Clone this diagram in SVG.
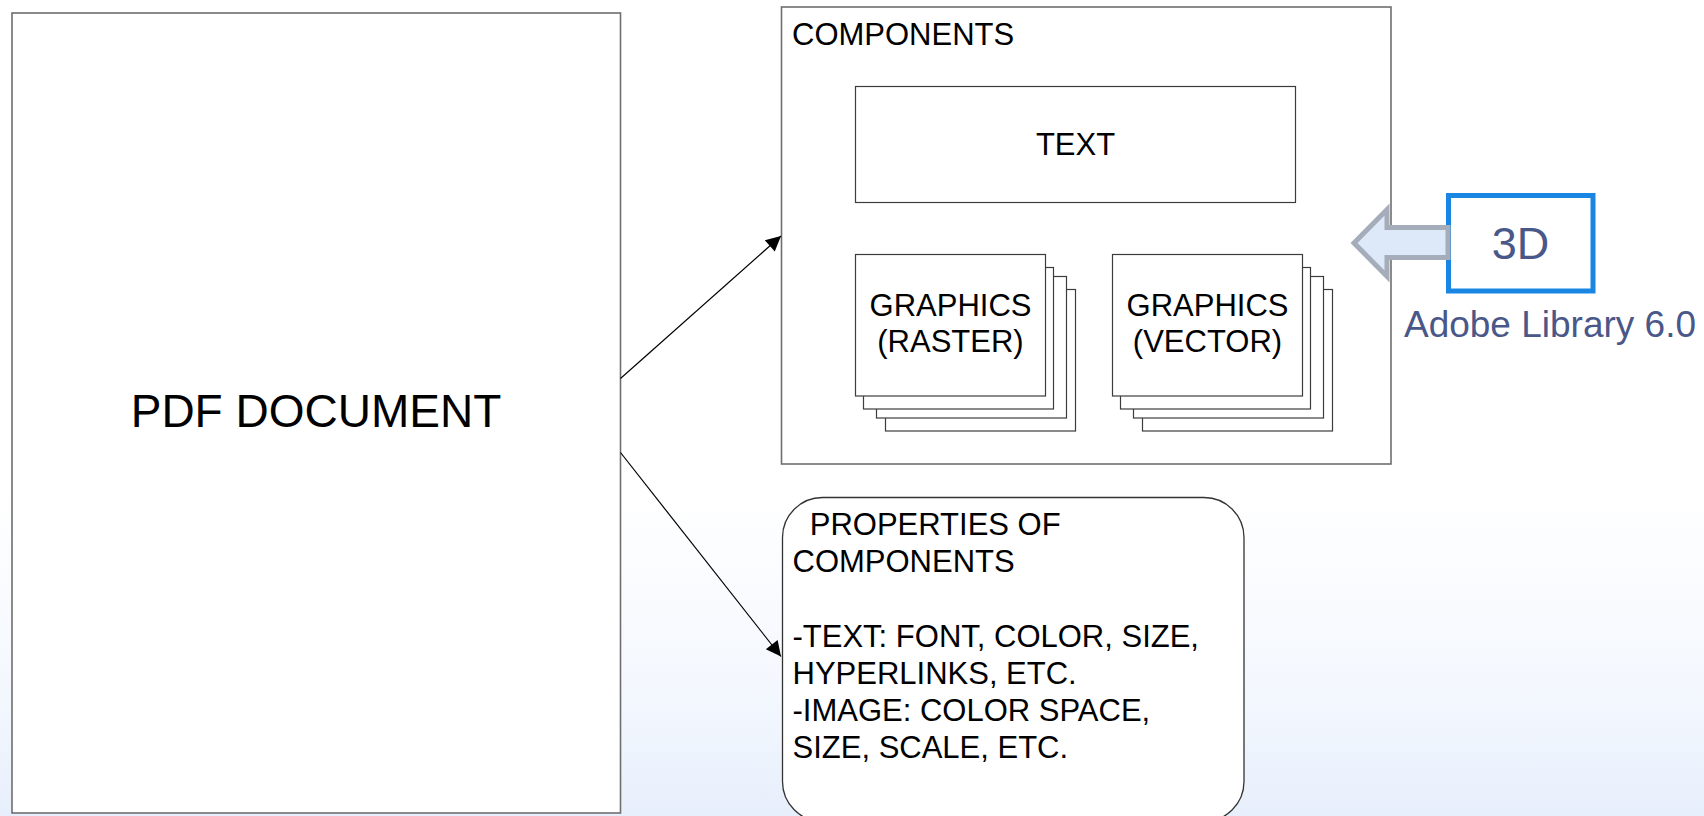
<svg xmlns="http://www.w3.org/2000/svg" width="1704" height="816" viewBox="0 0 1704 816">
<defs>
<linearGradient id="bg" x1="0" y1="0" x2="0" y2="1">
<stop offset="0" stop-color="#ffffff"/>
<stop offset="0.6" stop-color="#ffffff"/>
<stop offset="0.86" stop-color="#f3f7fe"/>
<stop offset="1" stop-color="#e7effc"/>
</linearGradient>
<marker id="ah" viewBox="0 0 10 10" refX="10" refY="5" markerWidth="21" markerHeight="15" markerUnits="userSpaceOnUse" orient="auto">
<path d="M0,0 L10,5 L0,10 z" fill="#000"/>
</marker>
<style>
.box{fill:#fff;stroke:#6e6e6e;stroke-width:1.6}
.sub{fill:#fff;stroke:#3c3c3c;stroke-width:1.2}
.t{font-family:"Liberation Sans",Arial,sans-serif;font-size:31px;fill:#000}
.c{text-anchor:middle}
.conn{stroke:#000;stroke-width:1.2;fill:none}
.blue{font-family:"Liberation Sans",Arial,sans-serif;fill:#4a5789;text-anchor:middle}
</style>
</defs>
<rect x="0" y="0" width="1704" height="816" fill="url(#bg)"/>

<g id="pdf-document">
<rect class="box" x="12" y="13" width="608.5" height="800"/>
<text class="t c" x="316" y="427" style="font-size:46px">PDF DOCUMENT</text>
</g>

<g id="components">
<rect class="box" x="781.5" y="7" width="609.5" height="457"/>
<text class="t" x="792" y="45">COMPONENTS</text>
</g>

<g id="text-component">
<rect class="sub" x="855.5" y="86.5" width="440" height="116"/>
<text class="t c" x="1075.5" y="155">TEXT</text>
</g>

<g id="graphics-raster">
<rect class="sub" x="885.5" y="289.5" width="190" height="141.5"/>
<rect class="sub" x="876.5" y="276.5" width="190" height="141.5"/>
<rect class="sub" x="863.5" y="267.5" width="190" height="141.5"/>
<rect class="sub" x="855.5" y="254.5" width="190" height="141.5"/>
<text class="t c" x="950.5" y="316">GRAPHICS</text>
<text class="t c" x="950.5" y="352">(RASTER)</text>
</g>

<g id="graphics-vector">
<rect class="sub" x="1142.5" y="289.5" width="190" height="141.5"/>
<rect class="sub" x="1133.5" y="276.5" width="190" height="141.5"/>
<rect class="sub" x="1120.5" y="267.5" width="190" height="141.5"/>
<rect class="sub" x="1112.5" y="254.5" width="190" height="141.5"/>
<text class="t c" x="1207.5" y="316">GRAPHICS</text>
<text class="t c" x="1207.5" y="352">(VECTOR)</text>
</g>

<g id="properties">
<rect class="box" x="782.5" y="497.5" width="461.5" height="324" rx="40" ry="40" style="stroke:#333;stroke-width:1.3"/>
<text class="t" x="792.5" y="535" xml:space="preserve">  PROPERTIES OF</text>
<text class="t" x="792.5" y="572">COMPONENTS</text>
<text class="t" x="792.5" y="646.5">-TEXT: FONT, COLOR, SIZE,</text>
<text class="t" x="792.5" y="683.5">HYPERLINKS, ETC.</text>
<text class="t" x="792.5" y="720.5">-IMAGE: COLOR SPACE,</text>
<text class="t" x="792.5" y="758">SIZE, SCALE, ETC.</text>
</g>

<g id="three-d">
<rect x="1448.5" y="195.5" width="144.5" height="95.5" fill="#fff" stroke="#1a86e3" stroke-width="5"/>
<text class="blue" x="1520.5" y="259" style="font-size:45px">3D</text>
<text class="blue" x="1550" y="337" style="font-size:37px">Adobe Library 6.0</text>
</g>

<g id="connectors">
<line class="conn" x1="620.5" y1="378.5" x2="781" y2="236" marker-end="url(#ah)"/>
<line class="conn" x1="620.5" y1="452.5" x2="781" y2="656.5" marker-end="url(#ah)"/>
<polygon points="1354,243 1387,209.5 1387,227.5 1448,227.5 1448,257.5 1387,257.5 1387,276.5" fill="#dde8f9" stroke="#a5acba" stroke-width="5" stroke-linejoin="miter"/>
</g>
</svg>
